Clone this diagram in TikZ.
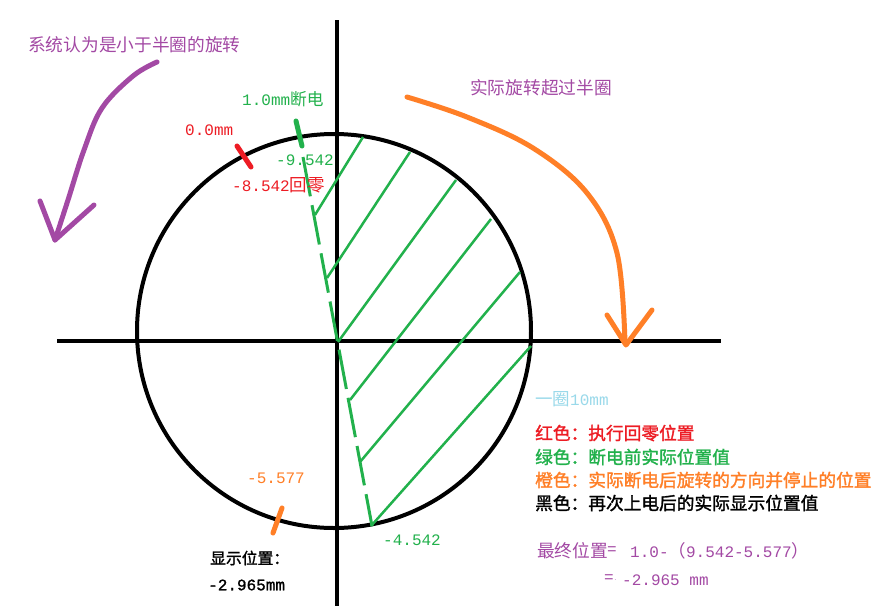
\documentclass[tikz,border=0pt]{standalone}
\usepackage{fontspec}
\setmainfont{Liberation Mono}
\newfontfamily\cjk{Noto Sans CJK SC}
\newfontfamily\cjkb[AutoFakeBold=1.5]{Noto Sans CJK SC}
\newfontfamily\mono{Liberation Mono}
\newfontfamily\monob[AutoFakeBold=1.2]{Liberation Mono}
\definecolor{ppurple}{HTML}{A349A4}
\definecolor{porange}{HTML}{FF7F27}
\definecolor{pgreen}{HTML}{22B14C}
\definecolor{pred}{HTML}{ED1C24}
\definecolor{pblue}{HTML}{99D9EA}
\begin{document}
\begin{tikzpicture}[x=1pt,y=-1pt,
  lbl/.style={inner sep=0pt,anchor=west,font=\fontsize{16}{16}\selectfont},
  big/.style={inner sep=0pt,anchor=west,font=\fontsize{17.7}{18}\selectfont},
  axis/.style={line width=4pt,black},
  tick/.style={line width=5pt,line cap=round},
  hatch/.style={pgreen,line width=2.5pt},
  arrowline/.style={line width=5pt,line cap=round,line join=round}]
\useasboundingbox[fill=white] (0,0) rectangle (879,611);
% circle and axes
\coordinate (C) at (334,331);
\draw[line width=4pt] (C) circle[radius=197];
\coordinate (hl) at (57,341); \coordinate (hr) at (721,341);
\coordinate (vt) at (337,20); \coordinate (vb) at (337,606);
\draw[axis] (hl) -- (hr);
\draw[axis] (vt) -- (vb);
% green hatch
\draw[hatch] (315,215) -- (363,137);
\draw[hatch] (327,278) -- (410,152);
\draw[hatch] (338,342) -- (456,180);
\draw[hatch] (350,400) -- (491,219);
\draw[hatch] (360,462) -- (520,272);
\draw[hatch] (371,526) -- (531,346);
% green dashed line
\coordinate (d1) at (303,157); \coordinate (d2) at (372,526);
\draw[pgreen,line width=3pt,dash pattern=on 40pt off 9pt] (d1) -- (d2);
% ticks
\draw[tick,pgreen] (296,121) -- (302,146);
\draw[tick,pred] (237,146) -- (251,167);
\draw[tick,porange] (282,508) -- (273,533);
% purple arrow
\draw[arrowline,ppurple] plot[smooth,tension=0.6] coordinates {(157,62) (133,76) (102,108) (84,150) (68,200) (55,240)};
\draw[arrowline,ppurple] (40,201) -- (55,240) -- (94,205);
% orange arrow
\draw[arrowline,porange] plot[smooth,tension=0.6] coordinates {(407,97) (467,117) (533,148) (587,193) (617,253) (625,343)};
\draw[arrowline,porange] (607,315) -- (626,345) -- (652,310);
% texts
\node[big,text=ppurple] (t1) at (28,45) {\cjk 系统认为是小于半圈的旋转};
\node[big,text=ppurple] (t2) at (470,88) {\cjk 实际旋转超过半圈};
\node[lbl,text=pgreen] (t3) at (242,99) {1.0mm{\cjk\fontsize{16.7}{17}\selectfont 断电}};
\node[lbl,text=pred] (t4) at (185,130) {0.0mm};
\node[lbl,text=pgreen] (t5) at (276,160) {-9.542};
\node[lbl,text=pred] (t6) at (232,185) {-8.542{\cjk\fontsize{17.5}{17}\selectfont 回零}};
\node[lbl,text=pblue] (t7) at (535,399) {{\cjk\fontsize{17.5}{17}\selectfont 一圈}10mm};
\node[big,text=pred] (l1) at (535,433) {\cjkb\bfseries 红色：执行回零位置};
\node[big,text=pgreen] (l2) at (535,457) {\cjkb\bfseries 绿色：断电前实际位置值};
\node[big,text=porange] (l3) at (535,480) {\cjkb\bfseries 橙色：实际断电后旋转的方向并停止的位置};
\node[big,text=black] (l4) at (535,503) {\cjkb\bfseries 黑色：再次上电后的实际显示位置值};
\node[lbl,text=porange] (t8) at (247,478) {-5.577};
\node[lbl,text=pgreen] (t9) at (383,540) {-4.542};
\node[lbl,text=black,font=\fontsize{15.8}{16}\selectfont] (t10) at (210,558) {\cjkb\bfseries 显示位置：};
\node[lbl,text=black] (t11) at (208,585) {\monob\bfseries -2.965mm};
\node[big,text=ppurple] (f1) at (537,551) {\cjk 最终位置};
\node[lbl,text=ppurple] (f2) at (607,551) {=};
\node[lbl,text=ppurple] (f3) at (630,551) {1.0-{\cjk\fontsize{17.5}{17}\selectfont （}9.542-5.577{\cjk\fontsize{17.5}{17}\selectfont ）}};
\node[lbl,text=ppurple] (f4) at (604,579) {=\raisebox{2pt}{\tiny.}};
\node[lbl,text=ppurple] (f5) at (622,580) {-2.965 mm};
\end{tikzpicture}
\end{document}
